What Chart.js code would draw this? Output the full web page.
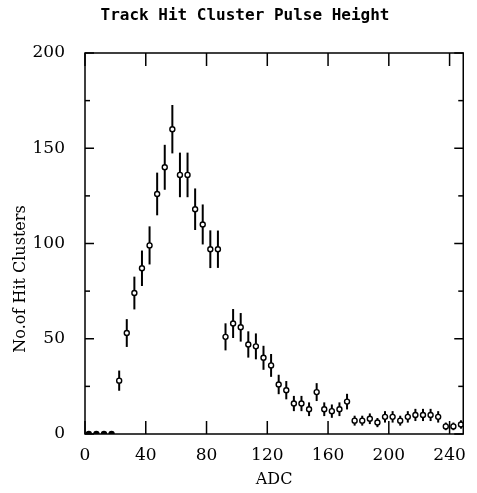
<!DOCTYPE html>
<html lang="en">
<head>
    <meta charset="UTF-8" />
    <title>Track Hit Cluster Pulse Height</title>
    <script src="https://cdn.jsdelivr.net/npm/chart.js"></script>
    <style>
        html, body { margin: 0; padding: 0; background: #fff; }
        #wrap { width: 477px; height: 493px; }
    </style>
</head>
<body>
    <div id="wrap"><canvas id="pulseChart"></canvas></div>
    <script>
        // bin centres (ADC, 5 wide) and counts
        const adcBins = [2.5, 7.5, 12.5, 17.5, 22.5, 27.5, 32.5, 37.5, 42.5, 47.5,
            52.5, 57.5, 62.5, 67.5, 72.5, 77.5, 82.5, 87.5, 92.5, 97.5,
            102.5, 107.5, 112.5, 117.5, 122.5, 127.5, 132.5, 137.5, 142.5, 147.5,
            152.5, 157.5, 162.5, 167.5, 172.5, 177.5, 182.5, 187.5, 192.5, 197.5,
            202.5, 207.5, 212.5, 217.5, 222.5, 227.5, 232.5, 237.5, 242.5, 247.5];
        const hitCounts = [0, 0, 0, 0, 28, 53, 74, 87, 99, 126,
            140, 160, 136, 136, 118, 110, 97, 97, 51, 58,
            56, 47, 46, 40, 36, 26, 23, 16, 16, 13,
            22, 13, 12, 13, 17, 7, 7, 8, 6, 9,
            9, 7, 9, 10, 10, 10, 9, 4, 4, 5];
        const countErrors = [0, 0, 0, 0, 5.3, 7.3, 8.6, 9.3, 10, 11.2,
            11.8, 12.7, 11.7, 11.7, 10.9, 10.5, 9.9, 9.8, 7.1, 7.6,
            7.5, 6.9, 6.8, 6.3, 6, 5.1, 4.8, 4, 4, 3.6,
            4.7, 3.6, 3.5, 3.6, 4.1, 2.6, 2.6, 2.8, 2.4, 3,
            3, 2.6, 3, 3.2, 3.2, 3.2, 3, 2, 2, 2.2];
        const xTickVals = [0, 40, 80, 120, 160, 200, 240];
        const yTickVals = [0, 50, 100, 150, 200];
        const yMinorVals = [25, 75, 125, 175];

        const serif = '"DejaVu Serif", "Liberation Serif", serif';

        // vertical error bars, drawn under the markers
        const errorBars = {
            id: 'errorBars',
            beforeDatasetsDraw(chart) {
                const { ctx, scales: { x, y } } = chart;
                ctx.save();
                ctx.strokeStyle = '#000';
                ctx.lineWidth = 2;
                adcBins.forEach((b, i) => {
                    if (!countErrors[i]) return;
                    const px = x.getPixelForValue(b);
                    ctx.beginPath();
                    ctx.moveTo(px, y.getPixelForValue(hitCounts[i] - countErrors[i]));
                    ctx.lineTo(px, y.getPixelForValue(hitCounts[i] + countErrors[i]));
                    ctx.stroke();
                });
                ctx.restore();
            }
        };

        // box frame with inward ticks on all four sides + rotated y title
        const frame = {
            id: 'frame',
            afterDraw(chart) {
                const { ctx, chartArea: a, scales: { x, y } } = chart;
                const line = (x1, y1, x2, y2) => { ctx.beginPath(); ctx.moveTo(x1, y1); ctx.lineTo(x2, y2); ctx.stroke(); };
                ctx.save();
                ctx.strokeStyle = '#000';
                ctx.lineWidth = 1.5;
                ctx.strokeRect(a.left, a.top, a.right - a.left, a.bottom - a.top);
                xTickVals.forEach(v => {
                    const px = x.getPixelForValue(v);
                    line(px, a.bottom, px, a.bottom - 13);
                    line(px, a.top, px, a.top + 13);
                });
                yTickVals.forEach(v => {
                    const py = y.getPixelForValue(v);
                    line(a.left, py, a.left + 9, py);
                    line(a.right, py, a.right - 9, py);
                });
                yMinorVals.forEach(v => {
                    const py = y.getPixelForValue(v);
                    line(a.left, py, a.left + 5, py);
                    line(a.right, py, a.right - 5, py);
                });
                // y axis title sits a bit below the axis middle in the original
                ctx.translate(21, 279);
                ctx.rotate(-Math.PI / 2);
                ctx.fillStyle = '#000';
                ctx.font = '16px ' + serif;
                ctx.textAlign = 'center';
                ctx.textBaseline = 'middle';
                ctx.fillText('No.of Hit Clusters', 0, 0);
                ctx.restore();
            }
        };

        new Chart(document.getElementById('pulseChart'), {
            type: 'scatter',
            data: {
                datasets: [{
                    label: 'Hit clusters',
                    data: adcBins.map((b, i) => ({ x: b, y: hitCounts[i] })),
                    pointRadius: 2.5,
                    pointBorderWidth: 1.4,
                    pointBorderColor: '#000',
                    pointBackgroundColor: c => (c.raw && c.raw.y === 0 ? '#000' : '#fff'),
                    showLine: false
                }]
            },
            options: {
                responsive: true,
                maintainAspectRatio: false,
                animation: false,
                events: [],
                layout: { padding: { left: 18, right: 5, top: 0, bottom: 0 } },
                plugins: {
                    legend: { display: false },
                    tooltip: { enabled: false },
                    title: {
                        display: true,
                        text: 'Track Hit Cluster Pulse Height',
                        color: '#000',
                        font: { family: '"DejaVu Sans Mono", "Liberation Mono", monospace', size: 16, weight: 'bold' },
                        padding: { top: 6, bottom: 27.8 }
                    }
                },
                scales: {
                    x: {
                        type: 'linear',
                        min: 0,
                        max: 249,
                        grid: { display: false, drawTicks: false },
                        border: { display: false },
                        afterBuildTicks: s => { s.ticks = xTickVals.map(v => ({ value: v })); },
                        afterFit: s => { s.height = 59; },
                        ticks: { color: '#000', padding: 11, maxRotation: 0, font: { family: serif, size: 17 } },
                        title: {
                            display: true,
                            text: 'ADC',
                            color: '#000',
                            font: { family: serif, size: 16 },
                            padding: { top: 0, bottom: 4 }
                        }
                    },
                    y: {
                        min: 0,
                        max: 200,
                        grid: { display: false, drawTicks: false },
                        border: { display: false },
                        afterBuildTicks: s => { s.ticks = yTickVals.map(v => ({ value: v })); },
                        afterFit: s => { s.width = 67; },
                        ticks: { color: '#000', padding: 20, font: { family: serif, size: 17 } }
                    }
                }
            },
            plugins: [errorBars, frame]
        });
    </script>
</body>
</html>
